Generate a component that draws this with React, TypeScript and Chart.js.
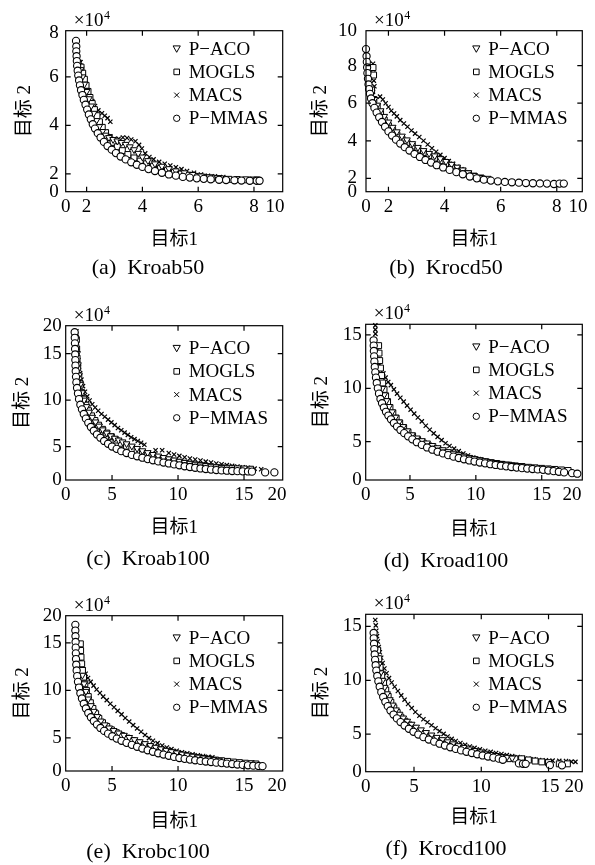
import React, { useEffect, useRef } from "react";
import { Chart, registerables } from "chart.js";
Chart.register(...registerables);

const SERIES_NAMES = ["P−ACO", "MOGLS", "MACS", "P−MMAS"];
const AXIS_X_TITLE = "目标1";
const AXIS_Y_TITLE = "目标 2";
const SCALE_NOTE = "×10";
const SCALE_EXP = "4";

// ---------- (a) Kroab50 ----------
const kroab50_PACO = [[1.72,6.6],[1.78,6.3],[1.85,6.0],[1.92,5.7],[2.0,5.4],[2.08,5.1],[2.16,4.8],[2.25,4.5],[2.35,4.2],[2.45,3.95],[2.56,3.75],[2.68,3.6],[2.8,3.5],[2.95,3.42],[3.1,3.36],[3.25,3.3],[3.4,3.22],[3.55,3.12],[3.7,3.0],[3.85,2.85],[4.0,2.7],[4.2,2.55],[4.45,2.42],[4.7,2.32],[4.95,2.22],[5.2,2.13],[5.5,2.05],[5.8,1.98],[6.1,1.92],[6.4,1.88],[6.7,1.85]];
const kroab50_MOGLS = [[1.8,6.4],[1.86,6.15],[1.92,5.9],[1.98,5.65],[2.05,5.4],[2.12,5.15],[2.2,4.9],[2.28,4.65],[2.37,4.4],[2.46,4.15],[2.56,3.92],[2.68,3.7],[2.8,3.5],[2.95,3.3],[3.1,3.12],[3.28,2.96],[3.48,2.8],[3.7,2.66],[3.92,2.53],[4.15,2.42],[4.4,2.32],[4.65,2.23],[4.9,2.15],[5.15,2.07],[5.4,2.0],[5.65,1.95],[5.9,1.9],[6.2,1.86],[6.5,1.83],[6.8,1.8],[7.1,1.78],[7.4,1.77],[7.7,1.76],[7.95,1.75],[8.1,1.75]];
const kroab50_MACS = [[1.78,6.6],[1.83,6.35],[1.88,6.1],[1.94,5.85],[2.0,5.6],[2.06,5.4],[2.12,5.2],[2.2,5.0],[2.3,4.8],[2.42,4.62],[2.55,4.5],[2.65,4.4],[2.75,4.3],[2.85,4.15],[2.7,3.75],[2.85,3.55],[3.0,3.45],[3.15,3.45],[3.3,3.5],[3.45,3.48],[3.6,3.42],[3.75,3.35],[3.88,3.2],[3.98,3.05],[4.1,2.85],[4.25,2.7],[4.4,2.6],[4.6,2.5],[4.8,2.42],[5.0,2.35],[5.2,2.28],[5.4,2.2],[5.6,2.12],[5.85,2.05],[6.1,1.98],[6.35,1.93],[6.6,1.9],[6.9,1.87]];
const kroab50_PMMAS = [[1.62,7.48],[1.63,7.25],[1.63,7.05],[1.64,6.85],[1.65,6.65],[1.66,6.45],[1.68,6.25],[1.7,6.05],[1.73,5.85],[1.76,5.65],[1.8,5.45],[1.85,5.25],[1.9,5.05],[1.96,4.85],[2.02,4.65],[2.08,4.45],[2.15,4.25],[2.22,4.05],[2.3,3.87],[2.4,3.68],[2.5,3.5],[2.62,3.32],[2.75,3.15],[2.9,3.0],[3.05,2.86],[3.22,2.72],[3.4,2.6],[3.6,2.48],[3.8,2.38],[4.0,2.29],[4.22,2.2],[4.45,2.12],[4.7,2.05],[4.95,1.98],[5.2,1.93],[5.45,1.88],[5.7,1.85],[5.95,1.82],[6.2,1.8],[6.45,1.78],[6.75,1.76],[7.0,1.75],[7.3,1.74],[7.55,1.73],[7.85,1.72],[8.1,1.72],[8.2,1.72]];

// ---------- (b) Krocd50 ----------
const krocd50_PACO = [[1.5,6.2],[1.6,5.9],[1.72,5.6],[1.85,5.3],[2.0,5.0],[2.15,4.72],[2.3,4.48],[2.48,4.25],[2.66,4.05],[2.85,3.85],[3.05,3.65],[3.25,3.48],[3.45,3.33],[3.65,3.2],[3.85,3.05],[4.05,2.9],[4.25,2.75],[4.45,2.6],[4.65,2.45],[4.85,2.3],[5.05,2.15],[5.25,2.05]];
const krocd50_MOGLS = [[1.45,7.9],[1.47,7.5],[1.4,6.7],[1.48,6.2],[1.6,5.8],[1.72,5.45],[1.85,5.1],[2.0,4.8],[2.15,4.55],[2.3,4.32],[2.48,4.1],[2.66,3.9],[2.85,3.72],[3.05,3.55],[3.25,3.38],[3.45,3.22],[3.65,3.08],[3.85,2.94],[4.05,2.8],[4.25,2.66],[4.45,2.52],[4.65,2.38],[4.85,2.25],[5.05,2.12],[5.3,2.02],[5.55,1.95]];
const krocd50_MACS = [[1.45,8.1],[1.46,7.8],[1.47,7.5],[1.48,7.2],[1.5,6.9],[1.45,6.6],[1.7,6.35],[1.8,6.2],[1.9,6.0],[2.0,5.8],[2.1,5.6],[2.2,5.45],[2.3,5.3],[2.42,5.1],[2.55,4.92],[2.68,4.75],[2.82,4.55],[2.95,4.38],[3.1,4.2],[3.25,4.0],[3.4,3.8],[3.55,3.6],[3.7,3.42],[3.85,3.25],[4.0,3.08],[4.15,2.92],[4.3,2.78],[4.45,2.62],[4.6,2.48],[4.75,2.32],[4.9,2.18]];
const krocd50_PMMAS = [[1.2,8.88],[1.22,8.5],[1.23,8.2],[1.24,7.9],[1.25,7.6],[1.27,7.3],[1.29,7.0],[1.31,6.75],[1.34,6.5],[1.38,6.25],[1.43,6.0],[1.5,5.75],[1.58,5.5],[1.67,5.25],[1.77,5.0],[1.88,4.75],[2.0,4.5],[2.13,4.28],[2.27,4.06],[2.42,3.85],[2.58,3.66],[2.75,3.48],[2.93,3.3],[3.12,3.14],[3.32,2.98],[3.52,2.84],[3.72,2.7],[3.95,2.58],[4.18,2.45],[4.42,2.33],[4.65,2.22],[4.9,2.1],[5.15,2.0],[5.4,1.93],[5.65,1.88],[5.9,1.84],[6.15,1.81],[6.4,1.79],[6.65,1.77],[6.9,1.75],[7.15,1.74],[7.4,1.73],[7.65,1.72],[7.9,1.7],[8.1,1.72],[8.25,1.72]];

// ---------- (c) Kroab100 ----------
const kroab100_PACO = [[2.35,15.0],[2.42,13.8],[2.5,12.7],[2.6,11.7],[2.72,10.8],[2.88,10.0],[3.06,9.3],[3.27,8.7],[3.5,8.15],[3.75,7.65],[4.02,7.2],[4.3,6.8],[4.6,6.45],[4.9,6.15],[5.2,5.9],[5.5,5.7],[5.8,5.5],[6.1,5.3],[6.5,5.05],[6.9,4.8],[7.3,4.55],[7.7,4.35],[8.1,4.15],[8.5,3.98],[8.9,3.82],[9.3,3.68],[9.7,3.55],[10.1,3.42],[10.5,3.3],[10.9,3.2],[11.3,3.1],[11.7,3.02],[12.1,2.95],[12.5,2.88],[12.9,2.82],[13.3,2.76]];
const kroab100_MOGLS = [[2.3,16.5],[2.32,15.5],[2.35,14.5],[2.4,13.5],[2.48,12.5],[2.58,11.6],[2.7,10.8],[2.85,10.1],[3.02,9.45],[3.22,8.85],[3.45,8.3],[3.7,7.8],[3.98,7.3],[4.28,6.85],[4.6,6.45],[4.95,6.05],[5.3,5.7],[5.7,5.35],[6.1,5.05],[6.5,4.78],[6.9,4.55],[7.3,4.35],[7.7,4.15],[8.1,3.98],[8.5,3.82],[8.9,3.68],[9.3,3.55],[9.7,3.42],[10.1,3.3],[10.5,3.2],[10.9,3.1],[11.3,3.02],[11.7,2.94],[12.1,2.87],[12.5,2.8],[12.9,2.75],[13.3,2.7],[13.7,2.66],[14.1,2.62],[14.5,2.6],[15.0,2.58],[15.5,2.56]];
const kroab100_MACS = [[2.3,17.4],[2.32,16.8],[2.34,16.2],[2.36,15.6],[2.4,15.0],[2.45,14.3],[2.5,13.6],[2.58,12.9],[2.68,12.2],[2.8,11.5],[2.95,10.9],[3.12,10.4],[3.3,9.95],[3.5,9.55],[3.72,9.2],[3.95,8.85],[4.2,8.5],[4.45,8.2],[4.7,7.9],[4.95,7.6],[5.2,7.3],[5.45,7.0],[5.7,6.75],[5.95,6.5],[6.2,6.25],[6.45,6.0],[6.7,5.8],[6.95,5.6],[7.2,5.4],[7.45,5.2],[8.3,4.6],[8.8,4.6],[9.3,4.3],[9.7,4.15],[10.1,4.0],[10.5,3.85],[10.9,3.72],[11.3,3.6],[11.7,3.5],[12.1,3.38],[12.5,3.28],[12.9,3.18],[13.3,3.1],[13.7,3.0],[14.1,2.92],[14.5,2.85],[14.9,2.78],[15.3,2.7],[15.8,2.62],[16.3,2.55]];
const kroab100_PMMAS = [[2.17,17.3],[2.18,16.7],[2.19,16.1],[2.2,15.5],[2.21,14.9],[2.22,14.3],[2.23,13.7],[2.25,13.1],[2.27,12.5],[2.3,11.9],[2.35,11.3],[2.42,10.7],[2.5,10.1],[2.6,9.5],[2.72,9.0],[2.86,8.5],[3.02,8.0],[3.2,7.55],[3.4,7.1],[3.62,6.7],[3.86,6.3],[4.12,5.95],[4.4,5.6],[4.7,5.3],[5.0,5.0],[5.35,4.75],[5.7,4.5],[6.1,4.3],[6.5,4.1],[6.9,3.95],[7.3,3.8],[7.7,3.65],[8.1,3.52],[8.5,3.4],[8.9,3.28],[9.3,3.18],[9.7,3.08],[10.1,2.98],[10.5,2.88],[10.9,2.8],[11.3,2.72],[11.7,2.64],[12.1,2.58],[12.5,2.52],[12.9,2.47],[13.3,2.43],[13.7,2.4],[14.1,2.37],[14.5,2.35],[14.9,2.33],[15.3,2.32],[15.6,2.3],[16.6,2.22],[17.3,2.22]];

// ---------- (d) Kroad100 ----------
const kroad100_PACO = [[2.9,10.0],[3.05,9.4],[3.22,8.85],[3.42,8.3],[3.65,7.8],[3.9,7.3],[4.18,6.85],[4.48,6.42],[4.8,6.02],[5.15,5.65],[5.52,5.35],[5.9,5.1],[6.3,4.88],[6.7,4.65],[7.1,4.44],[7.5,4.25],[7.9,4.07],[8.3,3.92],[8.7,3.78],[9.1,3.65],[9.5,3.53],[9.9,3.42],[10.3,3.32],[10.7,3.22],[11.1,3.13],[11.5,3.05],[11.9,2.97],[12.3,2.9],[12.7,2.83],[13.1,2.77],[13.5,2.71]];
const kroad100_MOGLS = [[2.62,14.0],[2.65,13.3],[2.7,12.6],[2.76,11.9],[2.84,11.2],[2.93,10.5],[3.03,9.9],[3.15,9.3],[3.3,8.75],[3.48,8.2],[3.7,7.7],[3.95,7.2],[4.22,6.75],[4.52,6.3],[4.85,5.9],[5.2,5.52],[5.58,5.18],[6.0,4.88],[6.4,4.62],[6.8,4.4],[7.2,4.2],[7.6,4.02],[8.0,3.86],[8.4,3.72],[8.8,3.59],[9.2,3.47],[9.6,3.36],[10.0,3.26],[10.4,3.17],[10.8,3.09],[11.2,3.01],[11.6,2.94],[12.0,2.87],[12.5,2.8],[13.0,2.73],[13.5,2.67],[14.0,2.6],[14.5,2.55],[15.0,2.5],[15.5,2.45],[16.0,2.4],[16.5,2.35],[17.0,2.3]];
const kroad100_MACS = [[2.37,15.9],[2.37,15.5],[2.38,15.1],[2.45,13.5],[2.55,12.7],[2.68,12.2],[2.82,11.8],[2.98,11.4],[3.15,11.0],[3.35,10.6],[3.55,10.3],[3.78,9.9],[4.02,9.5],[4.27,9.12],[4.52,8.75],[4.78,8.38],[5.05,8.0],[5.32,7.63],[5.6,7.27],[5.9,6.9],[6.2,6.5],[6.5,6.12],[6.8,5.78],[7.1,5.45],[7.4,5.15],[7.7,4.85],[8.0,4.6],[8.35,4.35],[8.7,4.12],[9.05,3.9],[9.4,3.7],[9.8,3.52],[10.2,3.37],[10.6,3.23],[11.0,3.1],[11.4,3.0],[11.8,2.9],[12.2,2.82],[12.6,2.75],[13.0,2.68],[13.5,2.6],[14.0,2.54],[14.5,2.48],[15.0,2.42],[15.5,2.37],[16.0,2.32],[16.5,2.28]];
const kroad100_PMMAS = [[2.24,14.5],[2.25,14.0],[2.26,13.5],[2.28,13.0],[2.3,12.5],[2.33,12.0],[2.37,11.5],[2.42,11.0],[2.48,10.5],[2.56,10.0],[2.65,9.5],[2.76,9.0],[2.88,8.6],[3.02,8.2],[3.18,7.8],[3.36,7.45],[3.56,7.1],[3.78,6.75],[4.02,6.42],[4.28,6.1],[4.56,5.8],[4.86,5.5],[5.18,5.22],[5.52,4.95],[5.9,4.7],[6.3,4.46],[6.7,4.25],[7.1,4.06],[7.5,3.9],[7.9,3.74],[8.3,3.6],[8.7,3.47],[9.1,3.35],[9.5,3.24],[9.9,3.14],[10.3,3.05],[10.7,2.97],[11.1,2.89],[11.5,2.82],[11.9,2.75],[12.3,2.69],[12.7,2.63],[13.1,2.57],[13.5,2.52],[13.9,2.48],[14.3,2.44],[14.7,2.4],[15.1,2.36],[15.5,2.3],[15.9,2.24],[16.3,2.18],[16.7,2.12],[17.3,2.05],[17.7,2.0]];

// ---------- (e) Krobc100 ----------
const krobc100_PACO = [[2.75,11.6],[2.88,10.7],[3.02,9.9],[3.2,9.1],[3.4,8.4],[3.62,7.8],[3.88,7.25],[4.15,6.78],[4.45,6.38],[4.78,6.05],[5.12,5.78],[5.5,5.52],[5.9,5.28],[6.3,5.05],[6.7,4.82],[7.1,4.6],[7.5,4.4],[7.9,4.2],[8.3,4.02],[8.7,3.85],[9.1,3.7],[9.5,3.56],[9.9,3.43],[10.3,3.3],[10.7,3.19],[11.1,3.08],[11.5,2.98],[11.9,2.89],[12.3,2.8],[12.7,2.72],[13.1,2.65]];
const krobc100_MOGLS = [[2.6,14.9],[2.62,14.2],[2.65,13.5],[2.7,12.8],[2.76,12.1],[2.84,11.4],[2.94,10.7],[3.06,10.0],[3.2,9.35],[3.36,8.7],[3.55,8.1],[3.76,7.55],[4.0,7.05],[4.28,6.6],[4.6,6.2],[4.95,5.85],[5.32,5.55],[5.72,5.25],[6.14,4.98],[6.56,4.72],[7.0,4.48],[7.45,4.26],[7.9,4.05],[8.35,3.86],[8.8,3.68],[9.25,3.52],[9.7,3.38],[10.15,3.25],[10.6,3.13],[11.05,3.02],[11.5,2.92],[11.95,2.83],[12.4,2.75],[12.85,2.67],[13.3,2.6],[13.75,2.53],[14.2,2.46],[14.65,2.4],[15.1,2.34],[15.55,2.29],[15.9,2.26]];
const krobc100_MACS = [[2.55,13.8],[2.62,13.2],[2.72,12.7],[2.85,12.2],[3.0,11.75],[3.18,11.3],[3.38,10.9],[3.6,10.5],[3.83,10.1],[4.08,9.72],[4.33,9.35],[4.6,8.98],[4.87,8.6],[5.15,8.22],[5.43,7.85],[5.72,7.48],[6.0,7.1],[6.3,6.72],[6.6,6.35],[6.9,6.0],[7.2,5.65],[7.5,5.3],[7.8,4.98],[8.1,4.7],[8.45,4.45],[8.8,4.2],[9.15,4.0],[9.5,3.82],[9.9,3.65],[10.3,3.5],[10.7,3.38],[11.1,3.28],[11.5,3.18],[11.9,3.1],[12.3,3.02],[12.6,2.95]];
const krobc100_PMMAS = [[2.22,16.9],[2.22,16.3],[2.23,15.7],[2.24,15.1],[2.25,14.5],[2.26,13.9],[2.27,13.3],[2.29,12.7],[2.32,12.1],[2.36,11.5],[2.42,10.9],[2.5,10.3],[2.6,9.7],[2.72,9.15],[2.86,8.6],[3.02,8.1],[3.2,7.62],[3.4,7.18],[3.62,6.78],[3.86,6.4],[4.12,6.05],[4.4,5.74],[4.7,5.45],[5.02,5.18],[5.36,4.93],[5.72,4.7],[6.1,4.48],[6.5,4.27],[6.9,4.07],[7.3,3.88],[7.7,3.7],[8.1,3.54],[8.5,3.39],[8.9,3.25],[9.3,3.12],[9.7,3.0],[10.1,2.89],[10.5,2.8],[10.9,2.72],[11.3,2.65],[11.7,2.58],[12.1,2.52],[12.5,2.46],[12.9,2.4],[13.3,2.35],[13.7,2.3],[14.1,2.25],[14.5,2.2],[14.9,2.16],[15.3,2.12],[15.7,2.08],[16.1,2.05],[16.4,2.03]];

// ---------- (f) Krocd100 ----------
const krocd100_PACO = [[2.4,11.5],[2.52,10.7],[2.66,10.0],[2.82,9.35],[3.0,8.75],[3.2,8.2],[3.42,7.7],[3.66,7.25],[3.92,6.85],[4.2,6.5],[4.5,6.2],[4.82,5.92],[5.16,5.65],[5.52,5.4],[5.9,5.15],[6.3,4.92],[6.7,4.7],[7.1,4.49],[7.5,4.29],[7.9,4.1],[8.3,3.93],[8.7,3.77],[9.1,3.62],[9.5,3.48],[9.9,3.35],[10.3,3.23],[10.7,3.12],[11.1,3.02],[11.5,2.93],[11.9,2.85],[12.3,2.78]];
const krocd100_MOGLS = [[2.3,12.8],[2.38,12.0],[2.48,11.2],[2.6,10.45],[2.74,9.75],[2.9,9.1],[3.08,8.5],[3.28,7.95],[3.5,7.45],[3.75,7.0],[4.02,6.58],[4.32,6.2],[4.64,5.85],[4.98,5.53],[5.34,5.24],[5.72,4.97],[6.12,4.72],[6.54,4.48],[6.96,4.26],[7.38,4.06],[7.8,3.88],[8.22,3.71],[8.64,3.56],[9.06,3.42],[9.48,3.29],[9.9,3.17],[10.32,3.06],[10.74,2.96],[11.16,2.87],[11.58,2.79],[12.0,2.72],[12.5,2.7],[13.0,2.71],[13.5,2.6],[14.0,2.5],[14.5,2.42],[15.0,2.35],[15.8,2.24],[16.4,2.24]];
const krocd100_MACS = [[2.12,15.6],[2.16,15.1],[2.2,14.6],[2.25,14.1],[2.31,13.6],[2.38,13.1],[2.46,12.6],[2.56,12.1],[2.67,11.6],[2.8,11.1],[2.96,10.65],[3.14,10.2],[3.34,9.8],[3.56,9.4],[3.8,9.0],[4.05,8.6],[4.3,8.2],[4.56,7.8],[4.83,7.42],[5.1,7.05],[5.4,6.7],[5.7,6.38],[6.0,6.1],[6.3,5.82],[6.6,5.55],[6.9,5.28],[7.2,5.02],[7.5,4.78],[7.8,4.56],[8.1,4.36],[8.45,4.17],[8.8,4.0],[9.15,3.85],[9.5,3.72],[9.9,3.58],[10.3,3.46],[10.7,3.35],[11.1,3.25],[11.5,3.15],[11.9,3.05],[12.3,2.96],[12.7,2.88],[13.1,2.8],[13.5,2.72],[13.9,2.66],[14.3,2.6],[14.8,2.56],[15.3,2.54],[15.8,2.52],[16.3,2.5],[16.7,2.45],[17.0,2.42]];
const krocd100_PMMAS = [[2.0,14.4],[2.01,13.9],[2.03,13.4],[2.05,12.9],[2.08,12.4],[2.11,11.9],[2.15,11.4],[2.2,10.9],[2.27,10.4],[2.35,9.9],[2.45,9.4],[2.57,8.9],[2.71,8.45],[2.87,8.0],[3.05,7.6],[3.25,7.2],[3.48,6.82],[3.73,6.46],[4.0,6.12],[4.3,5.8],[4.62,5.5],[4.96,5.22],[5.32,4.96],[5.7,4.72],[6.1,4.5],[6.5,4.3],[6.9,4.11],[7.3,3.94],[7.7,3.78],[8.1,3.63],[8.5,3.49],[8.9,3.36],[9.3,3.24],[9.7,3.13],[10.1,3.02],[10.5,2.92],[10.9,2.82],[11.3,2.72],[11.6,2.62],[12.8,2.28],[13.1,2.25],[13.3,2.24],[15.1,2.12],[16.0,2.1]];

// tick label values / texts
const X_LABELS_10 = ["0", "2", "4", "6", "8", "10"];
const Y_LABELS_8 = ["0", "2", "4", "6", "8"];
const Y_LABELS_10 = ["0", "2", "4", "6", "8", "10"];
const LABELS_20 = ["0", "5", "10", "15", "20"];
const LABELS_15 = ["0", "5", "10", "15"];

type Panel = {
  caption: string;
  cx: number; cy: number; cw: number; ch: number;
  pl: number; pt: number; pr: number; pb: number;
  xMin: number; xMax: number; xVals: number[]; xLabels: string[]; xMarks: number[];
  yMin: number; yMax: number; yVals: number[]; yLabels: string[]; yMarks: number[];
  series: number[][][];
  xTitleY: number; yTitleX: number; legendTop: number; captionX: number; captionY: number; yPad: number;
};

const PANELS: Panel[] = [
  {
    caption: "(a)  Kroab50", cx: 0, cy: 0, cw: 297, ch: 262,
    pl: 65.7, pt: 30.7, pr: 282.7, pb: 191.7,
    xMin: 1.25, xMax: 9.03, xVals: [1.25, 2, 4, 6, 8, 8.75], xLabels: X_LABELS_10, xMarks: [2, 4, 6, 8],
    yMin: 1.27, yMax: 7.9, yVals: [1.27, 2, 4, 6, 7.82], yLabels: Y_LABELS_8, yMarks: [2, 4, 6],
    series: [kroab50_PACO, kroab50_MOGLS, kroab50_MACS, kroab50_PMMAS],
    xTitleY: 240, yTitleX: 25, legendTop: 18, captionX: 148, captionY: 267, yPad: 7,
  },
  {
    caption: "(b)  Krocd50", cx: 297, cy: 0, cw: 298, ch: 262,
    pl: 366, pt: 30.7, pr: 582.3, pb: 191.7,
    xMin: 1.2, xMax: 8.91, xVals: [1.2, 2, 4, 6, 8, 8.76], xLabels: X_LABELS_10, xMarks: [2, 4, 6, 8],
    yMin: 1.29, yMax: 9.86, yVals: [1.29, 2, 4, 6, 8, 9.86], yLabels: Y_LABELS_10, yMarks: [2, 4, 6, 8],
    series: [krocd50_PACO, krocd50_MOGLS, krocd50_MACS, krocd50_PMMAS],
    xTitleY: 240, yTitleX: 321.5, legendTop: 18, captionX: 446, captionY: 267, yPad: 9,
  },
  {
    caption: "(c)  Kroab100", cx: 0, cy: 290, cw: 297, ch: 262,
    pl: 65.7, pt: 325.7, pr: 282.7, pb: 480,
    xMin: 1.49, xMax: 17.93, xVals: [1.49, 5, 10, 15, 17.5], xLabels: LABELS_20, xMarks: [5, 10, 15],
    yMin: 1.4, yMax: 18, yVals: [1.4, 5, 10, 15, 18], yLabels: LABELS_20, yMarks: [5, 10, 15],
    series: [kroab100_PACO, kroab100_MOGLS, kroab100_MACS, kroab100_PMMAS],
    xTitleY: 528, yTitleX: 23.5, legendTop: 22.5, captionX: 148, captionY: 558, yPad: 4,
  },
  {
    caption: "(d)  Kroad100", cx: 297, cy: 290, cw: 298, ch: 262,
    pl: 365.7, pt: 324.3, pr: 582.3, pb: 480,
    xMin: 1.64, xMax: 18.08, xVals: [1.64, 5, 10, 15, 17.3], xLabels: LABELS_20, xMarks: [5, 10, 15],
    yMin: 1.41, yMax: 16.0, yVals: [1.41, 5, 10, 15], yLabels: LABELS_15, yMarks: [5, 10, 15],
    series: [kroad100_PACO, kroad100_MOGLS, kroad100_MACS, kroad100_PMMAS],
    xTitleY: 530, yTitleX: 321.7, legendTop: 22.4, captionX: 446, captionY: 560, yPad: 4,
  },
  {
    caption: "(e)  Krobc100", cx: 0, cy: 580, cw: 297, ch: 262,
    pl: 65.7, pt: 615.7, pr: 282.7, pb: 771,
    xMin: 1.49, xMax: 17.93, xVals: [1.49, 5, 10, 15, 17.5], xLabels: LABELS_20, xMarks: [5, 10, 15],
    yMin: 1.52, yMax: 17.86, yVals: [1.52, 5, 10, 15, 17.86], yLabels: LABELS_20, yMarks: [5, 10, 15],
    series: [krobc100_PACO, krobc100_MOGLS, krobc100_MACS, krobc100_PMMAS],
    xTitleY: 822, yTitleX: 23.3, legendTop: 22, captionX: 148, captionY: 851, yPad: 4,
  },
  {
    caption: "(f)  Krocd100", cx: 297, cy: 580, cw: 298, ch: 262,
    pl: 365.7, pt: 614.3, pr: 582.3, pb: 771.7,
    xMin: 1.41, xMax: 17.51, xVals: [1.41, 5, 10, 15.1, 16.9], xLabels: LABELS_20, xMarks: [5, 10, 15],
    yMin: 1.51, yMax: 16.13, yVals: [1.51, 5, 10, 15], yLabels: LABELS_15, yMarks: [5, 10, 15],
    series: [krocd100_PACO, krocd100_MOGLS, krocd100_MACS, krocd100_PMMAS],
    xTitleY: 818, yTitleX: 321.7, legendTop: 23.4, captionX: 446, captionY: 848, yPad: 4,
  },
];

const FAMILY = "'Liberation Serif', 'Noto Sans CJK SC', serif";
const FS = 19;

const STYLES = [
  { pointStyle: "triangle", rotation: 180, radius: 3.9, order: 2, bw: 1 },
  { pointStyle: "rect", rotation: 0, radius: 4.2, order: 3, bw: 1 },
  { pointStyle: "crossRot", rotation: 0, radius: 3.0, order: 4, bw: 1.2 },
  { pointStyle: "circle", rotation: 0, radius: 3.6, order: 1, bw: 1.1 },
];

function drawSymbol(ctx: CanvasRenderingContext2D, i: number, x: number, y: number) {
  ctx.beginPath();
  if (i === 0) {
    ctx.moveTo(x - 3.6, y - 2.8);
    ctx.lineTo(x + 3.6, y - 2.8);
    ctx.lineTo(x, y + 3.6);
    ctx.closePath();
  } else if (i === 1) {
    ctx.rect(x - 2.8, y - 2.8, 5.6, 5.6);
  } else if (i === 2) {
    ctx.moveTo(x - 2.5, y - 2.5); ctx.lineTo(x + 2.5, y + 2.5);
    ctx.moveTo(x + 2.5, y - 2.5); ctx.lineTo(x - 2.5, y + 2.5);
  } else {
    ctx.arc(x, y, 3.2, 0, Math.PI * 2);
  }
  ctx.stroke();
}

function PanelChart({ p }: { p: Panel }) {
  const ref = useRef<HTMLCanvasElement>(null);
  useEffect(() => {
    const canvas = ref.current;
    if (!canvas) return;
    const plotL = p.pl - p.cx;
    const plotT = p.pt - p.cy;
    const plotR = p.pr - p.cx;
    const plotB = p.pb - p.cy;
    const font = { family: FAMILY, size: FS, lineHeight: 1.2 };
    const framePlugin = {
      id: "frame",
      afterDraw(chart: any) {
        const { ctx, chartArea: a, scales } = chart;
        ctx.save();
        ctx.strokeStyle = "#000";
        ctx.lineWidth = 1.2;
        ctx.strokeRect(a.left, a.top, a.right - a.left, a.bottom - a.top);
        const L = 5;
        ctx.beginPath();
        p.xMarks.forEach((v) => {
          const x = scales.x.getPixelForValue(v);
          ctx.moveTo(x, a.bottom); ctx.lineTo(x, a.bottom - L);
          ctx.moveTo(x, a.top); ctx.lineTo(x, a.top + L);
        });
        p.yMarks.forEach((v) => {
          const y = scales.y.getPixelForValue(v);
          ctx.moveTo(a.left, y); ctx.lineTo(a.left + L, y);
          ctx.moveTo(a.right, y); ctx.lineTo(a.right - L, y);
        });
        ctx.stroke();
        ctx.fillStyle = "#000";
        ctx.textBaseline = "alphabetic";
        ctx.textAlign = "left";
        ctx.font = `${FS}px ${FAMILY}`;
        const nx = a.left + 8;
        const ny = a.top - 5;
        ctx.fillText(SCALE_NOTE, nx, ny);
        const w = ctx.measureText(SCALE_NOTE).width;
        ctx.font = `12px ${FAMILY}`;
        ctx.fillText(SCALE_EXP, nx + w + 0.5, ny - 7);
        ctx.font = `${FS}px ${FAMILY}`;
        ctx.textBaseline = "middle";
        ctx.lineWidth = 1;
        SERIES_NAMES.forEach((name, i) => {
          const y = a.top + p.legendTop + 23.2 * i;
          drawSymbol(ctx, i, a.right - 106, y);
          ctx.fillText(name, a.right - 94, y + 1);
        });
        ctx.restore();
      },
    };
    const chart = new Chart(canvas, {
      type: "scatter",
      data: {
        datasets: SERIES_NAMES.map((name, i) => ({
          label: name,
          data: p.series[i].map(([x, y]) => ({ x, y })),
          pointStyle: STYLES[i].pointStyle as any,
          pointRotation: STYLES[i].rotation,
          pointRadius: STYLES[i].radius,
          pointBorderColor: "#000",
          pointBackgroundColor: "#fff",
          pointBorderWidth: STYLES[i].bw,
          borderColor: "#000",
          backgroundColor: "#fff",
          order: STYLES[i].order,
          clip: false as any,
        })),
      },
      options: {
        responsive: false,
        animation: false,
        events: [],
        layout: { padding: { left: 0, top: plotT, right: p.cw - plotR, bottom: 0 } },
        plugins: { legend: { display: false }, tooltip: { enabled: false } },
        scales: {
          x: {
            type: "linear",
            min: p.xMin,
            max: p.xMax,
            afterFit: (s: any) => { s.height = p.ch - plotB; },
            afterBuildTicks: (s: any) => { s.ticks = p.xVals.map((v) => ({ value: v })); },
            ticks: {
              autoSkip: false, maxRotation: 0, minRotation: 0, padding: 3.5, color: "#000", font,
              callback: (_v: any, i: number) => p.xLabels[i],
            },
            grid: { display: false, drawTicks: false },
            border: { display: false },
            title: {
              display: true, text: AXIS_X_TITLE, color: "#000", font,
              padding: { top: 0, bottom: p.cy + p.ch - p.xTitleY - FS * 0.6 },
            },
          },
          y: {
            type: "linear",
            min: p.yMin,
            max: p.yMax,
            afterFit: (s: any) => { s.width = plotL; },
            afterBuildTicks: (s: any) => { s.ticks = p.yVals.map((v) => ({ value: v })); },
            ticks: {
              autoSkip: false, padding: p.yPad, color: "#000", font,
              callback: (_v: any, i: number) => p.yLabels[i],
            },
            grid: { display: false, drawTicks: false },
            border: { display: false },
            title: {
              display: true, text: AXIS_Y_TITLE, color: "#000", font,
              padding: { top: p.yTitleX - p.cx - FS * 0.6, bottom: 0 },
            },
          },
        },
      },
      plugins: [framePlugin as any],
    } as any);
    return () => chart.destroy();
  }, [p]);
  return (
    <canvas
      ref={ref}
      width={p.cw}
      height={p.ch}
      style={{ position: "absolute", left: p.cx, top: p.cy, width: p.cw, height: p.ch }}
    />
  );
}

export default function App() {
  return (
    <div style={{ position: "absolute", left: 0, top: 0, width: 595, height: 865, background: "#fff", overflow: "hidden" }}>
      {PANELS.map((p, i) => (
        <React.Fragment key={i}>
          <PanelChart p={p} />
          <div
            style={{
              position: "absolute",
              left: p.captionX,
              top: p.captionY - 11,
              transform: "translateX(-50%)",
              fontFamily: FAMILY,
              fontSize: 22,
              lineHeight: "22px",
              whiteSpace: "pre",
              color: "#000",
            }}
          >
            {p.caption}
          </div>
        </React.Fragment>
      ))}
    </div>
  );
}
